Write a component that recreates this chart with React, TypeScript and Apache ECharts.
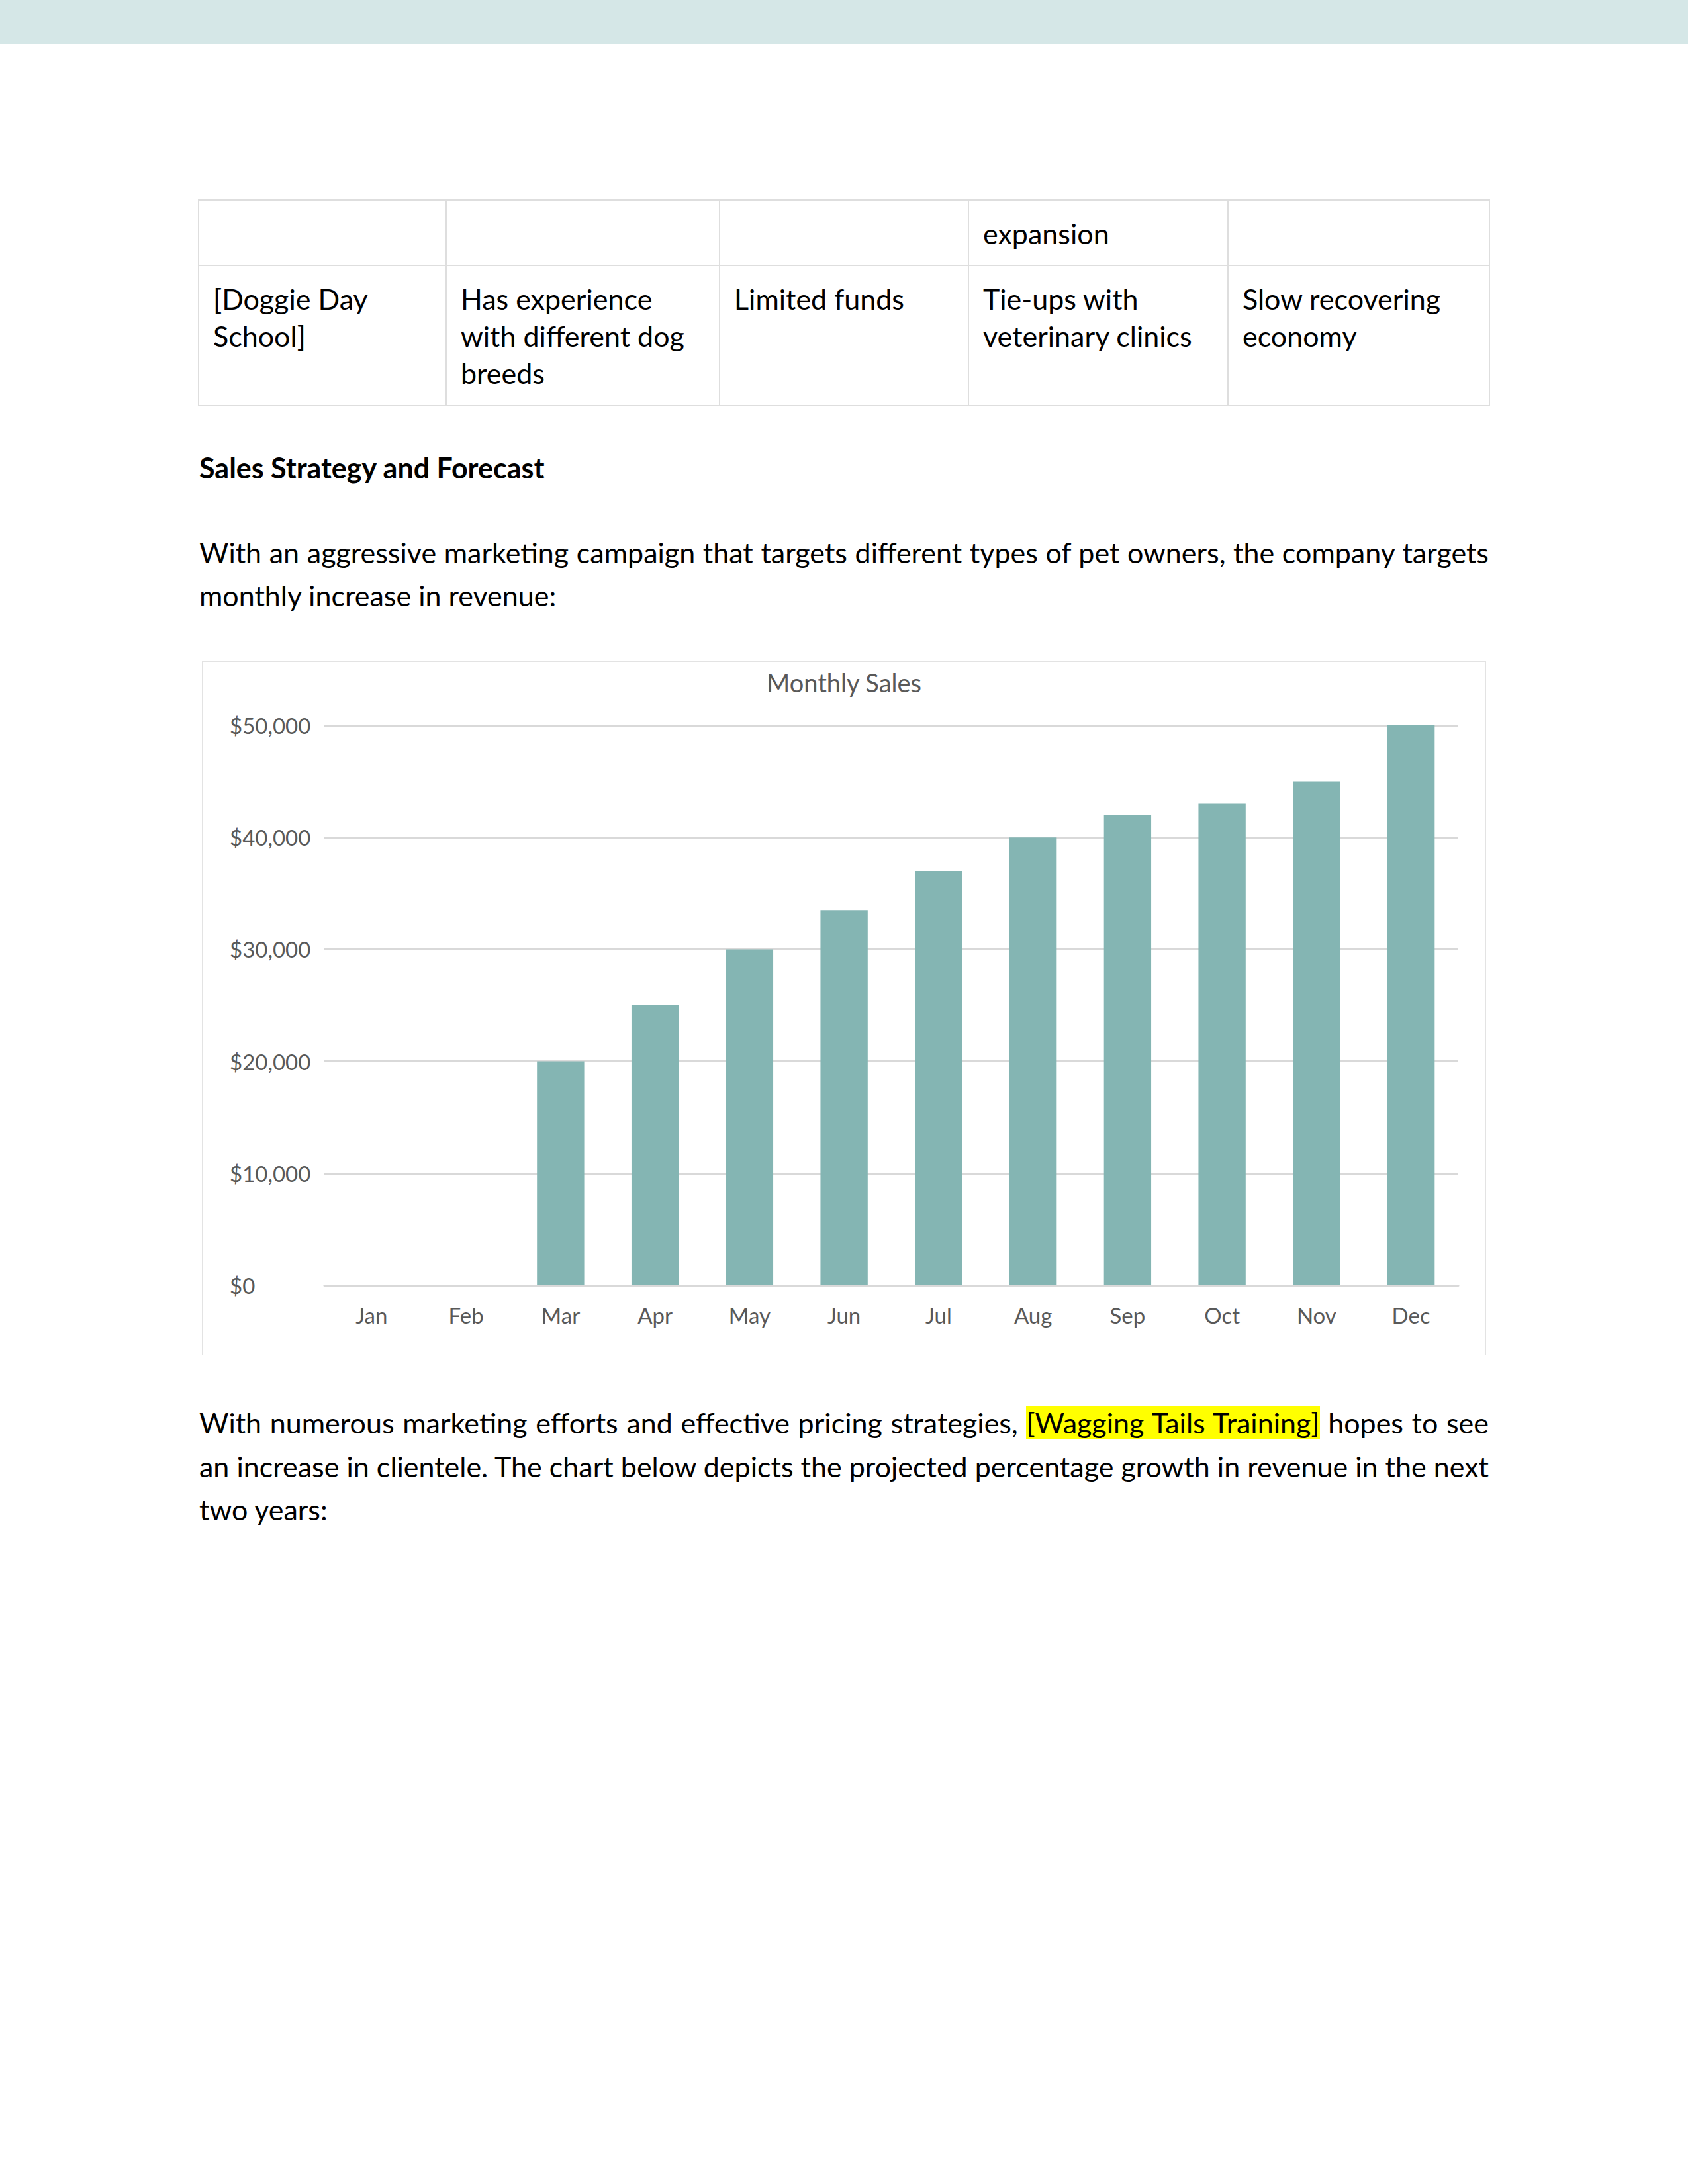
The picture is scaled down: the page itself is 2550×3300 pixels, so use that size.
import React, { useEffect, useRef } from "react";
import * as echarts from "echarts";

// ---- Chart data ----
const chartTitle = "Monthly Sales";
const months = ["Jan", "Feb", "Mar", "Apr", "May", "Jun", "Jul", "Aug", "Sep", "Oct", "Nov", "Dec"];
const sales = [0, 0, 20000, 25000, 30000, 33500, 37000, 40000, 42000, 43000, 45000, 50000];
const yMin = 0;
const yMax = 50000;
const yStep = 10000;

// ---- Document text ----
const tableRow1 = ["", "", "", "expansion", ""];
const tableRow2 = [
  ["[Doggie Day", "School]"],
  ["Has experience", "with different dog", "breeds"],
  ["Limited funds"],
  ["Tie-ups with", "veterinary clinics"],
  ["Slow recovering", "economy"],
];
const heading = "Sales Strategy and Forecast";
const para1 = [
  "With an aggressive marketing campaign that targets different types of pet owners, the company targets",
  "monthly increase in revenue:",
];
const para2Line1Before = "With numerous marketing efforts and effective pricing strategies, ";
const para2Highlight = "[Wagging Tails Training]";
const para2Line1After = " hopes to see";
const para2Rest = [
  "an increase in clientele. The chart below depicts the projected percentage growth in revenue in the next",
  "two years:",
];

const FONT = 'Lato, "Open Sans", sans-serif';
const BODY_SIZE = 43;
const LH = 56;
const TEXT_LEFT = 301;
const TEXT_WIDTH = 1948;

const colWidths = [374, 413, 376, 392, 395];

function TextLine(props: { cy: number; justify?: boolean; bold?: boolean; children: React.ReactNode }) {
  return (
    <div
      style={{
        position: "absolute",
        left: TEXT_LEFT,
        top: props.cy - LH / 2,
        width: TEXT_WIDTH,
        height: LH,
        lineHeight: LH + "px",
        fontFamily: FONT,
        fontSize: BODY_SIZE,
        fontWeight: props.bold ? 700 : 400,
        color: "#000",
        whiteSpace: "nowrap",
        textAlign: props.justify ? "justify" : "left",
        textAlignLast: props.justify ? "justify" : "left",
      } as React.CSSProperties}
    >
      {props.children}
    </div>
  );
}

export default function App() {
  const ref = useRef<HTMLDivElement>(null);

  useEffect(() => {
    document.body.style.margin = "0";
    const chart = echarts.init(ref.current!, null, { renderer: "svg" });
    chart.setOption({
      animation: false,
      backgroundColor: "#ffffff",
      title: {
        text: chartTitle,
        left: "center",
        top: 6,
        textStyle: { fontFamily: FONT, fontSize: 38, fontWeight: "normal", color: "#595959" },
      },
      grid: { left: 183, right: 40, top: 95, bottom: 105, containLabel: false },
      xAxis: {
        type: "category",
        data: months,
        axisLine: { show: true, lineStyle: { color: "#d9d9d9", width: 3 } },
        axisTick: { show: false },
        axisLabel: { fontFamily: FONT, fontSize: 33, color: "#595959", margin: 28 },
      },
      yAxis: {
        type: "value",
        min: yMin,
        max: yMax,
        interval: yStep,
        axisLine: { show: false },
        axisTick: { show: false },
        splitLine: { show: true, lineStyle: { color: "#d9d9d9", width: 3 } },
        axisLabel: {
          fontFamily: FONT,
          fontSize: 33,
          color: "#595959",
          align: "left",
          margin: 143,
          formatter: (v: number) => "$" + v.toLocaleString("en-US"),
        },
      },
      series: [
        {
          type: "bar",
          data: sales,
          barWidth: "50%",
          itemStyle: { color: "#84b5b3" },
        },
      ],
    });
    return () => chart.dispose();
  }, []);

  const cellBase: React.CSSProperties = {
    border: "2px solid #dedede",
    verticalAlign: "top",
    padding: "22px 10px 0 21px",
    fontFamily: FONT,
    fontSize: BODY_SIZE,
    lineHeight: LH + "px",
    color: "#000",
    whiteSpace: "nowrap",
    boxSizing: "border-box",
  };

  return (
    <div style={{ position: "absolute", left: 0, top: 0, width: 2550, height: 3300, background: "#ffffff", overflow: "hidden" }}>
      {/* top band */}
      <div style={{ position: "absolute", left: 0, top: 0, width: 2550, height: 67, background: "#d5e7e7" }} />

      {/* table */}
      <table
        style={{
          position: "absolute",
          left: 299,
          top: 301,
          width: 1950,
          borderCollapse: "collapse",
          tableLayout: "fixed",
        }}
      >
        <colgroup>
          {colWidths.map((w, i) => (
            <col key={i} style={{ width: w }} />
          ))}
        </colgroup>
        <tbody>
          <tr style={{ height: 99 }}>
            {tableRow1.map((t, i) => (
              <td key={i} style={cellBase}>{t}</td>
            ))}
          </tr>
          <tr style={{ height: 212 }}>
            {tableRow2.map((lines, i) => (
              <td key={i} style={cellBase}>
                {lines.map((l, j) => (
                  <div key={j}>{l}</div>
                ))}
              </td>
            ))}
          </tr>
        </tbody>
      </table>

      {/* heading and paragraph */}
      <TextLine cy={707} bold>{heading}</TextLine>
      <TextLine cy={835} justify>{para1[0]}</TextLine>
      <TextLine cy={900}>{para1[1]}</TextLine>

      {/* chart */}
      <div
        style={{
          position: "absolute",
          left: 305,
          top: 999,
          width: 1940,
          height: 1048,
          boxSizing: "border-box",
          borderTop: "2px solid #e3e3e3",
          borderLeft: "2px solid #e3e3e3",
          borderRight: "2px solid #e3e3e3",
        }}
      >
        <div ref={ref} style={{ width: 1936, height: 1046 }} />
      </div>

      {/* second paragraph */}
      <TextLine cy={2150} justify>
        {para2Line1Before}
        <span style={{ background: "#ffff00" }}>{para2Highlight}</span>
        {para2Line1After}
      </TextLine>
      <TextLine cy={2216} justify>{para2Rest[0]}</TextLine>
      <TextLine cy={2281}>{para2Rest[1]}</TextLine>
    </div>
  );
}
